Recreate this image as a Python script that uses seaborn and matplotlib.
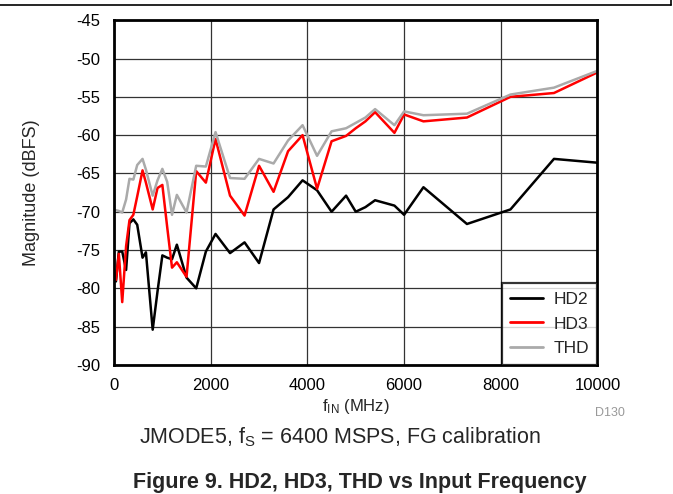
import matplotlib
matplotlib.use("Agg")
import matplotlib.pyplot as plt
import seaborn as sns
import pandas as pd
from matplotlib.lines import Line2D

# ---- data ----
freq_mhz = [40, 100, 170, 250, 320, 400, 480, 590, 660, 800, 900, 1000, 1100,
            1200, 1300, 1500, 1700, 1900, 2100, 2400, 2700, 3000, 3300, 3600,
            3900, 4200, 4500, 4800, 5000, 5200, 5400, 5800, 6000, 6400, 7300,
            8200, 9100, 10000]
hd2 = [-79.1, -75.2, -75.2, -77.6, -71.5, -71.0, -71.7, -76.0, -75.3, -85.4,
       -80.4, -75.7, -76.0, -76.2, -74.3, -78.6, -80.0, -75.2, -72.9, -75.4,
       -74.0, -76.7, -69.7, -68.1, -65.9, -67.2, -70.0, -67.9, -70.0, -69.4,
       -68.5, -69.2, -70.4, -66.8, -71.6, -69.7, -63.1, -63.6]
hd3 = [-78.9, -75.5, -81.8, -74.5, -71.1, -70.4, -68.0, -64.6, -66.2, -69.7,
       -66.9, -66.5, -72.0, -77.3, -76.6, -78.5, -64.7, -66.2, -60.5, -67.9,
       -70.5, -64.0, -67.4, -62.1, -60.0, -67.0, -60.8, -60.1, -59.1, -58.2,
       -57.0, -59.7, -57.3, -58.2, -57.7, -55.0, -54.5, -51.8]
thd = [-69.8, -69.9, -70.1, -68.4, -65.7, -65.8, -63.9, -63.1, -64.5, -67.9,
       -65.9, -64.4, -66.1, -70.4, -67.8, -70.1, -64.0, -64.1, -59.6, -65.6,
       -65.7, -63.1, -63.7, -60.7, -58.7, -62.7, -59.5, -59.1, -58.4, -57.7,
       -56.6, -58.7, -56.9, -57.4, -57.2, -54.7, -53.8, -51.6]
series_names = ["HD2", "HD3", "THD"]
series_colors = ["#000000", "#ff0000", "#aaaaaa"]
x_ticks = [0, 2000, 4000, 6000, 8000, 10000]
y_ticks = [-90, -85, -80, -75, -70, -65, -60, -55, -50, -45]

# ---- build long table ----
frames = []
for name, vals in zip(series_names, [hd2, hd3, thd]):
    frames.append(pd.DataFrame({"freq": freq_mhz, "mag": vals, "series": name}))
df = pd.concat(frames, ignore_index=True)

sns.set_theme(style="white")
plt.rcParams["font.family"] = ["Liberation Sans", "DejaVu Sans"]
plt.rcParams["mathtext.fontset"] = "custom"
plt.rcParams["mathtext.rm"] = "Liberation Sans"
plt.rcParams["mathtext.it"] = "Liberation Sans"

fig = plt.figure(figsize=(6.73, 4.94), dpi=100)
ax = fig.add_axes([0.1694, 0.2613, 0.8878 - 0.1694, 0.959 - 0.2613])

sns.lineplot(data=df, x="freq", y="mag", hue="series", hue_order=series_names,
             palette=dict(zip(series_names, series_colors)), sort=False,
             estimator=None, linewidth=1.8, ax=ax, legend=False)

ax.set_xlim(0, 10000)
ax.set_ylim(-90, -45)
ax.set_xticks(x_ticks)
ax.set_yticks(y_ticks)
ax.set_xticklabels([str(t) for t in x_ticks], fontsize=12)
ax.set_yticklabels([str(t) for t in y_ticks], fontsize=12)
ax.tick_params(axis="x", length=0, pad=9.5, colors="black")
ax.tick_params(axis="y", length=0, pad=10, colors="black")
ax.grid(True, color="#333333", linewidth=0.9)
ax.set_axisbelow(True)
for sp in ax.spines.values():
    sp.set_color("black")
    sp.set_linewidth(2)

ax.set_xlabel(r"f$_{\mathregular{IN}}$ (MHz)", fontsize=12, labelpad=3)
ax.set_ylabel("Magnitude (dBFS)", fontsize=13, labelpad=26)

handles = [Line2D([0], [0], color=c, lw=2) for c in series_colors]
leg = ax.legend(handles, series_names, loc="lower right", fontsize=12.5,
                frameon=True, fancybox=False, borderaxespad=0,
                handlelength=1.9, handletextpad=0.57, labelspacing=0.55,
                borderpad=0.5)
leg.get_frame().set_edgecolor("black")
leg.get_frame().set_linewidth(1.6)

fig.text(0.928, 0.163, "D130", fontsize=9, color="#999999", ha="right", va="center")
fig.text(0.505, 0.115, r"JMODE5, f$_{\mathregular{S}}$ = 6400 MSPS, FG calibration",
         fontsize=15.5, ha="center", va="center")
fig.text(0.535, 0.024, "Figure 9. HD2, HD3, THD vs Input Frequency",
         fontsize=15.5, fontweight="bold", ha="center", va="center")

# page frame lines
fig.add_artist(Line2D([0, 0.997], [0.989, 0.989], color="black", lw=1.2,
                      transform=fig.transFigure))
fig.add_artist(Line2D([0.997, 0.997], [0.989, 1.0], color="black", lw=1.2,
                      transform=fig.transFigure))

fig.savefig("out.png", dpi=100)
